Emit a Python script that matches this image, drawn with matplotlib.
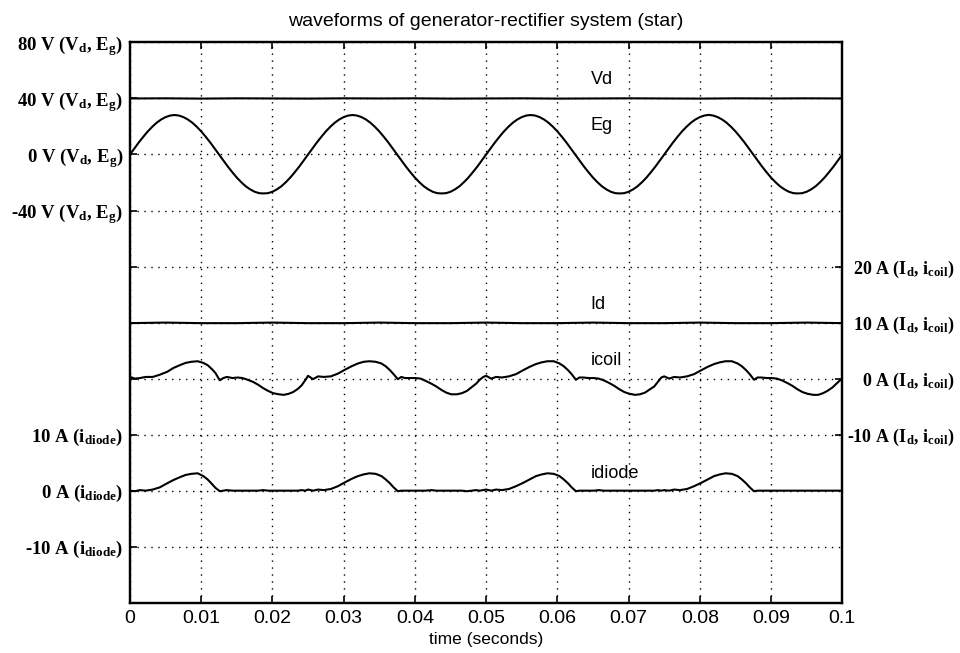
import numpy as np
import matplotlib
matplotlib.use('Agg')
import matplotlib.pyplot as plt

plt.rcParams['font.family'] = ['Liberation Sans', 'DejaVu Sans']
plt.rcParams['mathtext.fontset'] = 'custom'
plt.rcParams['mathtext.rm'] = 'Liberation Serif:bold'
plt.rcParams['mathtext.it'] = 'Liberation Serif:bold'
plt.rcParams['mathtext.bf'] = 'Liberation Serif:bold'

# generator emf Eg (V), sampled every 0.625 ms from 0 to 100 ms
t_eg = np.linspace(0, 0.1, 161)
eg = [0, 4.4, 8.7, 12.7, 16.5, 19.8, 22.7, 25.0, 26.7, 27.8, 28.2, 27.8, 26.7, 25.0, 22.7, 19.8, 16.5, 12.7, 8.7, 4.4,
      0, -4.4, -8.7, -12.7, -16.5, -19.8, -22.7, -24.9, -26.6, -27.6, -27.8, -27.6, -26.6, -24.9, -22.7, -19.8, -16.5, -12.7, -8.7, -4.4,
      0, 4.4, 8.7, 12.7, 16.5, 19.8, 22.7, 25.0, 26.7, 27.8, 28.2, 27.8, 26.7, 25.0, 22.7, 19.8, 16.5, 12.7, 8.7, 4.4,
      0, -4.4, -8.7, -12.7, -16.5, -19.8, -22.7, -24.9, -26.6, -27.6, -27.8, -27.6, -26.6, -24.9, -22.7, -19.8, -16.5, -12.7, -8.7, -4.4,
      0, 4.4, 8.7, 12.7, 16.5, 19.8, 22.7, 25.0, 26.7, 27.8, 28.2, 27.8, 26.7, 25.0, 22.7, 19.8, 16.5, 12.7, 8.7, 4.4,
      0, -4.4, -8.7, -12.7, -16.5, -19.8, -22.7, -24.9, -26.6, -27.6, -27.8, -27.6, -26.6, -24.9, -22.7, -19.8, -16.5, -12.7, -8.7, -4.4,
      0, 4.4, 8.7, 12.7, 16.5, 19.8, 22.7, 25.0, 26.7, 27.8, 28.3, 27.8, 26.7, 25.0, 22.7, 19.8, 16.5, 12.7, 8.7, 4.4,
      0, -4.4, -8.7, -12.7, -16.5, -19.8, -22.7, -24.9, -26.6, -27.6, -27.8, -27.6, -26.6, -24.9, -22.7, -19.8, -16.5, -12.7, -8.7, -4.4,
      0]

# dc link voltage Vd (V) and dc current Id (A), every 5 ms
t_dc = np.linspace(0, 0.1, 21)
vd = [40.0, 40.1, 39.9, 40.1, 40.0, 39.9, 40.1, 40.0, 40.1, 39.9, 40.0,
      40.1, 39.9, 40.0, 40.1, 40.0, 39.9, 40.1, 40.0, 40.1, 40.0]
id_dc = [9.9, 10.0, 9.9, 9.9, 10.0, 9.9, 9.9, 10.0, 9.9, 9.9, 10.0,
         9.9, 9.9, 10.0, 9.9, 9.9, 10.0, 9.9, 9.9, 10.0, 9.9]

# sample instants inside one 25 ms period (ms) and period starts (ms)
t_in_period = [0.0, 0.7, 1.4, 2.2, 3.2, 4.2, 5.2, 6.1, 7.0, 7.8, 8.6, 9.5,
               10.3, 10.9, 11.5, 12.0, 12.6, 13.1, 13.6, 14.4, 15.1, 15.8,
               16.5, 17.3, 18.0, 18.7, 19.4, 20.1, 20.9, 21.6, 22.3, 22.9,
               23.6, 24.1, 24.6]
period_start = [0, 25, 50, 75]

# coil current (A), one list per period
icoil_p1 = [0.3, 0.0, 0.1, 0.3, 0.3, 0.7, 1.2, 1.9, 2.4, 2.8, 3.0, 3.1, 2.8,
            2.4, 1.7, 1.0, -0.3, 0.1, 0.3, 0.1, 0.2, 0.1, -0.2, -0.6, -1.1,
            -1.7, -2.2, -2.6, -2.8, -2.9, -2.7, -2.4, -1.8, -1.2, -0.3]
icoil_p2 = [0.5, -0.1, 0.4, 0.3, 0.4, 0.9, 1.6, 2.2, 2.7, 3.0, 3.1, 3.0, 2.7,
            2.2, 1.5, 0.8, -0.1, 0.3, 0.1, 0.1, 0.1, 0.0, -0.4, -0.9, -1.4,
            -2.0, -2.5, -2.8, -2.8, -2.6, -2.2, -1.6, -0.9, -0.2, 0.3]
icoil_p3 = [0.5, 0.0, 0.3, 0.2, 0.4, 0.8, 1.5, 2.1, 2.6, 2.9, 3.1, 3.1, 2.7,
            2.2, 1.5, 0.8, -0.2, 0.2, 0.2, 0.1, 0.1, 0.0, -0.3, -0.8, -1.3,
            -1.9, -2.4, -2.7, -2.9, -2.8, -2.5, -2.0, -1.4, -0.6, 0.2]
icoil_p4 = [0.4, 0.0, 0.3, 0.2, 0.4, 0.8, 1.5, 2.1, 2.6, 2.9, 3.1, 3.1, 2.7,
            2.2, 1.5, 0.8, -0.2, 0.2, 0.2, 0.1, 0.1, 0.0, -0.3, -0.8, -1.3,
            -1.9, -2.4, -2.7, -2.9, -2.9, -2.6, -2.2, -1.6, -1.0, -0.4]
icoil_end = 0.0

# diode current (A), one list per period
idiode_p1 = [0.0, -0.1, 0.1, 0.0, 0.2, 0.6, 1.3, 1.9, 2.4, 2.8, 3.0, 3.1, 2.6,
             2.0, 1.2, 0.5, -0.1, 0.0, 0.1, 0.0, 0.0, 0.0, 0.0, 0.0, 0.0,
             0.1, 0.0, 0.0, 0.0, 0.0, 0.0, 0.0, 0.0, 0.1, 0.0]
idiode_p2 = [0.2, 0.0, 0.2, 0.1, 0.3, 0.8, 1.5, 2.1, 2.6, 2.9, 3.1, 3.0, 2.6,
             2.0, 1.3, 0.6, -0.1, 0.0, 0.0, 0.0, 0.0, 0.0, 0.0, 0.1, 0.0,
             0.0, 0.0, 0.0, 0.0, 0.0, -0.1, 0.0, 0.1, 0.0, 0.1]
idiode_p3 = [0.2, 0.0, 0.2, 0.1, 0.3, 0.8, 1.4, 2.0, 2.6, 2.9, 3.1, 3.0, 2.6,
             2.0, 1.3, 0.6, -0.1, 0.0, 0.0, 0.0, 0.0, 0.1, 0.0, 0.0, 0.0,
             0.0, 0.0, 0.0, 0.0, 0.0, 0.0, 0.0, 0.0, 0.1, 0.0]
idiode_p4 = [0.1, 0.0, 0.2, 0.1, 0.3, 0.8, 1.4, 2.0, 2.6, 2.9, 3.1, 3.0, 2.6,
             2.0, 1.3, 0.6, -0.1, 0.0, 0.0, 0.0, 0.0, 0.0, 0.0, 0.0, 0.0,
             0.0, 0.0, 0.0, 0.0, 0.0, 0.0, 0.0, 0.0, 0.0, 0.0]
idiode_end = 0.0

t_curr = np.array([s + x for s in period_start for x in t_in_period] + [100.0]) / 1000.0
icoil = np.array(icoil_p1 + icoil_p2 + icoil_p3 + icoil_p4 + [icoil_end])
idiode = np.array(idiode_p1 + idiode_p2 + idiode_p3 + idiode_p4 + [idiode_end])

# each trace has its own offset / scale on a common 0..10 grid
def volts(v):
    return 8 + np.asarray(v) / 40.0

def amps_dc(i):
    return 4 + np.asarray(i) / 10.0

def amps_diode(i):
    return 2 + np.asarray(i) / 10.0

left_pos = [1, 2, 3, 4, 5, 6, 7, 8, 9, 10]
left_lab = [r'-10 A (i$_{\rm diode}$)', r'0 A (i$_{\rm diode}$)', r'10 A (i$_{\rm diode}$)',
            '', '', '',
            r'-40 V (V$_{\rm d}$, E$_{\rm g}$)', r'0 V (V$_{\rm d}$, E$_{\rm g}$)',
            r'40 V (V$_{\rm d}$, E$_{\rm g}$)', r'80 V (V$_{\rm d}$, E$_{\rm g}$)']
right_pos = [3, 4, 5, 6]
right_lab = [r'-10 A (I$_{\rm d}$, i$_{\rm coil}$)', r'0 A (I$_{\rm d}$, i$_{\rm coil}$)',
             r'10 A (I$_{\rm d}$, i$_{\rm coil}$)', r'20 A (I$_{\rm d}$, i$_{\rm coil}$)']
x_ticks = [0, 0.01, 0.02, 0.03, 0.04, 0.05, 0.06, 0.07, 0.08, 0.09, 0.1]
x_lab = ['0', '0.01', '0.02', '0.03', '0.04', '0.05', '0.06', '0.07', '0.08', '0.09', '0.1']

fig = plt.figure(figsize=(9.6, 6.53), dpi=100)
ax = fig.add_axes([0.1354, 0.077, 0.742, 0.858])

lw = 1.5
ax.plot(t_dc, volts(vd), color='k', lw=lw)
ax.plot(t_eg, volts(eg), color='k', lw=lw)
ax.plot(t_dc, amps_dc(id_dc), color='k', lw=lw)
ax.plot(t_curr, amps_dc(icoil), color='k', lw=lw)
ax.plot(t_curr, amps_diode(idiode), color='k', lw=lw)

ax.set_xlim(0, 0.1)
ax.set_ylim(0, 10)
ax.set_xticks(x_ticks)
ax.set_xticklabels(x_lab, fontsize=14)
ax.set_yticks(left_pos)
ax.set_yticklabels(left_lab, fontsize=13.5, family='Liberation Serif', weight='bold')
ax.grid(True, linestyle=(0, (1, 4)), color='k', lw=1.0)
ax.tick_params(direction='in', length=5, width=1.2, top=True, pad=5)
ax.tick_params(axis='x', pad=5)

# right-hand axis: labels right-aligned near the figure edge
ax2 = ax.twinx()
ax2.set_ylim(0, 10)
ax2.set_yticks(right_pos)
ax2.set_yticklabels(right_lab, fontsize=13, family='Liberation Serif', weight='bold')
for lbl in ax2.get_yticklabels():
    lbl.set_horizontalalignment('right')
ax2.tick_params(direction='in', length=5, width=1.2, pad=81)

for a in (ax, ax2):
    for sp in a.spines.values():
        sp.set_linewidth(1.6)

# trace names
lx = 0.0647
ax.text(lx, 9.33, 'Vd', fontsize=13, va='center')
ax.text(lx, 8.52, 'Eg', fontsize=13, va='center')
ax.text(lx, 5.33, 'Id', fontsize=13, va='center')
ax.text(lx, 4.32, 'icoil', fontsize=13, va='center')
ax.text(lx, 2.31, 'idiode', fontsize=13, va='center')

ax.set_title('waveforms of generator-rectifier system (star)', fontsize=14, pad=12)
ax.set_xlabel('time (seconds)', fontsize=12.5, labelpad=4)

fig.savefig('out.png', dpi=100)
